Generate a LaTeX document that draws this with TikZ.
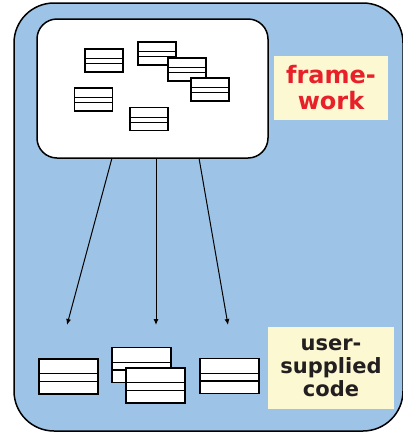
\documentclass[tikz,border=0pt]{standalone}
\usepackage{fontspec}
\newfontfamily\labelfont{DejaVu Sans}
\usepackage{tikz}
\usetikzlibrary{shapes,arrows.meta,positioning,calc}

\definecolor{appblue}{HTML}{9DC3E6}
\definecolor{notecream}{HTML}{FBF8D2}
\definecolor{notered}{HTML}{E8202A}
\definecolor{notegrey}{HTML}{231F20}

\tikzset{
  cls/.style={draw, fill=white, line width=1.2pt, inner sep=0pt,
    minimum width=38pt, minimum height=23pt,
    path picture={
      \draw[line width=1.2pt]
        ($(path picture bounding box.north west)!0.42!(path picture bounding box.south west)$) --
        ($(path picture bounding box.north east)!0.42!(path picture bounding box.south east)$)
        ($(path picture bounding box.north west)!0.64!(path picture bounding box.south west)$) --
        ($(path picture bounding box.north east)!0.64!(path picture bounding box.south east)$);
    }},
  bigcls/.style={cls, minimum width=59pt, minimum height=35pt},
  note/.style={fill=notecream, inner sep=0pt, align=center},
  calls/.style={-{Latex[length=6pt,width=5pt]}, line width=1pt},
}

\begin{document}
\begin{tikzpicture}[x=1pt,y=-1pt]
  \useasboundingbox (0,0) rectangle (403,432);
  %application
  \node[draw, fill=appblue, line width=1.5pt, rounded corners=40pt,
        minimum width=389pt, minimum height=428pt] (app) at (208.5,217) {};
  %framework
  \node[draw, fill=white, line width=1.5pt, rounded corners=20pt,
        minimum width=231pt, minimum height=139pt] (fw) at (152.5,88.5) {};
  \node[cls] (c1) at (104,60.5) {};
  \node[cls] (c2) at (157,53.5) {};
  \node[cls] (c3) at (187,69.5) {};
  \node[cls] (c4) at (210,89.5) {};
  \node[cls] (c5) at (93.5,99.5) {};
  \node[cls] (c6) at (149,119) {};
  \node[note, text=notered, minimum width=114pt, minimum height=64pt,
        font=\labelfont\bfseries\fontsize{24}{26}\selectfont] (fwnote) at (331,88) {frame-\\work};
  %user code
  \node[bigcls] (u1) at (68.5,376.5) {};
  \node[bigcls] (u2) at (141.5,365) {};
  \node[bigcls] (u3) at (155.5,385.5) {};
  \node[bigcls] (u4) at (229.5,376) {};
  \node[note, text=notegrey, minimum width=126pt, minimum height=82pt,
        font=\labelfont\bfseries\fontsize{21}{23}\selectfont] (usernote) at (331,368) {user-\\supplied\\code};
  %calls
  \coordinate (s1) at (112,158);
  \coordinate (s2) at (156,158);
  \coordinate (s3) at (199,158);
  \coordinate (e1) at (67,325);
  \coordinate (e2) at (156,325);
  \coordinate (e3) at (228,325);
  \draw[calls] (s1) -- (e1);
  \draw[calls] (s2) -- (e2);
  \draw[calls] (s3) -- (e3);
\end{tikzpicture}
\end{document}
